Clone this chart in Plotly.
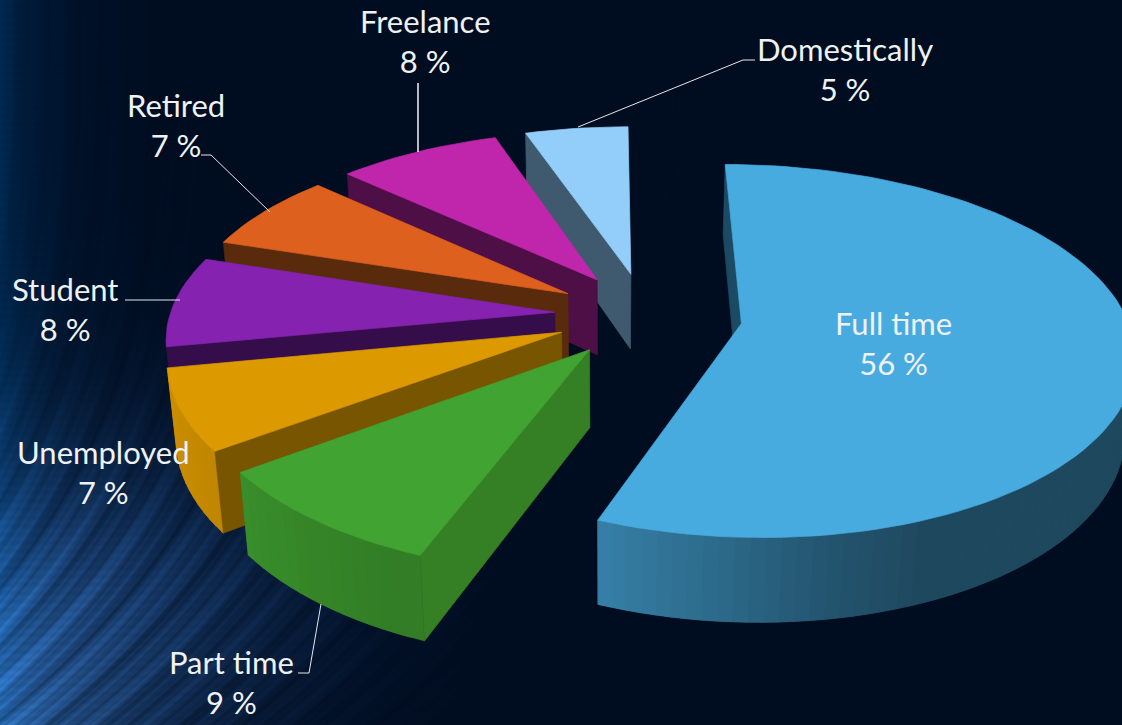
import base64
import struct
import zlib

import numpy as np
import plotly.graph_objects as go

# Employment status shares, clockwise from twelve o'clock
categories = ["Full time", "Part time", "Unemployed", "Student", "Retired", "Freelance", "Domestically"]
shares = [56, 9, 7, 8, 7, 8, 5]

top_colors = ["#48ABE0", "#41A331", "#DC9900", "#8622B0", "#DD601E", "#C026AC", "#93CEFA"]
cut_colors = ["#1C4A62", "#357F25", "#785500", "#350D4A", "#5A2A0C", "#4E0E46", "#3F5A6E"]
explode = [0.25, 0.2375, 0.2375, 0.2375, 0.2375, 0.2375, 0.2375]

WIDTH, HEIGHT = 1122, 725

# Camera model for the tilted, exploded pie
CX, CY = 646.0, 315.0
SCALE_X, SCALE_Y = 385.0, 180.0
PERSP_X, PERSP_Y = 0.135, 0.1465
VANISH_SHIFT = 40.0
THICKNESS, DEPTH_FADE = 78.0, 0.02


def project(u, v, z=0.0):
    wx = 1 + PERSP_X * v + DEPTH_FADE * z
    wy = 1 + PERSP_Y * v + DEPTH_FADE * z
    return (CX + SCALE_X * u / wx + VANISH_SHIFT * (1 / wx - 1),
            CY + (-SCALE_Y * v + THICKNESS * z) / wy)


def hex_rgb(code):
    return [int(code[i:i + 2], 16) for i in (1, 3, 5)]


def shade(code, factor):
    r, g, b = [int(round(c * factor)) for c in hex_rgb(code)]
    return f"rgb({r},{g},{b})"


def side_light(angle):
    return float(np.interp(angle, [156, 170, 184, 201, 234, 260], [0.42, 0.50, 0.62, 0.76, 0.88, 0.95]))


def png_uri(rgb):
    # Minimal PNG encoder so the backdrop needs nothing beyond numpy
    h, w, _ = rgb.shape
    raw = b"".join(b"\x00" + rgb[i].tobytes() for i in range(h))

    def chunk(tag, data):
        body = tag + data
        return struct.pack(">I", len(data)) + body + struct.pack(">I", zlib.crc32(body))

    png = b"\x89PNG\r\n\x1a\n" + chunk(b"IHDR", struct.pack(">IIBBBBB", w, h, 8, 2, 0, 0, 0))
    png += chunk(b"IDAT", zlib.compress(raw, 9)) + chunk(b"IEND", b"")
    return "data:image/png;base64," + base64.b64encode(png).decode()


def backdrop():
    # Dark navy slide with a glowing left edge and a fan of light streaks
    y, x = np.mgrid[0:HEIGHT, 0:WIDTH].astype(float)
    s = x + 300 * (y / HEIGHT) ** 3
    streak = (0.5 + 0.20 * np.sin(s * 0.23) + 0.12 * np.sin(s * 0.61 + 1.0)
              + 0.18 * np.sin(s * 0.097 + 2.0) + 0.05 * np.sin(s * 1.13))
    weave = 0.97 + 0.03 * np.sin(y * 0.75)
    edge = np.exp(-x / 42.0) * 0.62
    curtain = np.exp(-x / 130.0) * 0.16 * streak
    dist = np.hypot(x, (HEIGHT - y) / 1.25)
    glow = np.exp(-(dist / 155.0) ** 1.6)
    mid = np.exp(-(np.hypot((x - 120) / 210.0, (y - 590) / 150.0)) ** 2) * 0.65
    rgb = np.zeros((HEIGHT, WIDTH, 3))
    rgb[...] = np.array([0, 12, 31.0])
    rgb += (edge + curtain)[..., None] * np.array([0, 40, 70.0]) * weave[..., None]
    rgb += (glow * (0.45 + 0.45 * streak))[..., None] * np.array([52, 85, 125.0]) * weave[..., None]
    rgb += (mid * (0.4 + 0.7 * streak))[..., None] * np.array([24, 50, 85.0]) * weave[..., None]
    return np.clip(rgb, 0, 255).astype(np.uint8)


fig = go.Figure()


def add_poly(points, color, edge_width=0.7):
    xs = [p[0] for p in points] + [points[0][0]]
    ys = [p[1] for p in points] + [points[0][1]]
    fig.add_trace(go.Scatter(x=xs, y=ys, mode="lines", fill="toself", fillcolor=color,
                             line=dict(color=color, width=edge_width), hoverinfo="skip", showlegend=False))


def facing_viewer(quad):
    area = sum(quad[i][0] * quad[(i + 1) % 4][1] - quad[(i + 1) % 4][0] * quad[i][1] for i in range(4))
    return area < -1.0


def add_wedge(start, end, pull, top, cut):
    mid = (start + end) / 2
    du, dv = pull * np.sin(np.radians(mid)), pull * np.cos(np.radians(mid))
    arc = np.linspace(start, end, max(int((end - start) / 2.0), 3) + 1)
    rim = [(du + np.sin(np.radians(a)), dv + np.cos(np.radians(a))) for a in arc]

    apex_t, apex_b = project(du, dv), project(du, dv, 1.0)
    rim_t = [project(u, v) for u, v in rim]
    rim_b = [project(u, v, 1.0) for u, v in rim]

    # Radial cut faces
    first = [apex_t, rim_t[0], rim_b[0], apex_b]
    last = [rim_t[-1], apex_t, apex_b, rim_b[-1]]
    for quad in (first, last):
        if facing_viewer(quad):
            add_poly(quad, cut)

    # Curved outer wall; strips run high angle to low and overlap so no seams show
    n = len(arc) - 1
    for i in range(n - 1, -1, -1):
        j = min(i + 2, n)
        quad = [rim_t[i], rim_t[j], rim_b[j], rim_b[i]]
        if facing_viewer(quad):
            add_poly(quad, shade(top, side_light((arc[i] + arc[i + 1]) / 2)), edge_width=0.4)

    add_poly([apex_t] + rim_t, top)


edges = np.cumsum([0] + shares) / sum(shares) * 360
wedges = [(edges[i], edges[i + 1], explode[i], top_colors[i], cut_colors[i]) for i in range(len(shares))]

# Painter's order: the large slice, then around from the back to the front
for idx in [0, 6, 5, 4, 3, 2, 1]:
    add_wedge(*wedges[idx])

# Leader lines from labels to their slices
leaders = [
    ([578, 743, 755], [127, 60, 60], 1.0),
    ([418, 418], [83, 152], 1.6),
    ([201, 211, 270], [155, 155, 212], 1.0),
    ([125, 180], [300, 300], 1.0),
    ([298, 309, 321], [673, 673, 604], 1.0),
]
for lx, ly, lw in leaders:
    fig.add_trace(go.Scatter(x=lx, y=ly, mode="lines", line=dict(color="#E4E8EC", width=lw),
                             hoverinfo="skip", showlegend=False))

label_anchor = {
    "Full time": (893, 343),
    "Part time": (231, 682),
    "Unemployed": (103, 472),
    "Student": (65, 309),
    "Retired": (176, 125),
    "Freelance": (425, 41),
    "Domestically": (845, 69),
}
annotations = [
    dict(x=label_anchor[name][0], y=label_anchor[name][1], xref="x", yref="y", showarrow=False,
         text=f"{name}<br>{value} %", align="center", xanchor="center", yanchor="middle",
         font=dict(family="Lato", size=31, color="#EEF2F5"))
    for name, value in zip(categories, shares)
]

fig.update_layout(
    width=WIDTH, height=HEIGHT,
    margin=dict(l=0, r=0, t=0, b=0),
    paper_bgcolor="#000C1F", plot_bgcolor="rgba(0,0,0,0)",
    xaxis=dict(range=[0, WIDTH], visible=False, fixedrange=True),
    yaxis=dict(range=[HEIGHT, 0], visible=False, fixedrange=True),
    showlegend=False,
    annotations=annotations,
    images=[dict(source=png_uri(backdrop()), xref="paper", yref="paper", x=0, y=1, sizex=1, sizey=1,
                 sizing="stretch", xanchor="left", yanchor="top", layer="below")],
)

fig.write_html("out.html", config={"displayModeBar": False})
